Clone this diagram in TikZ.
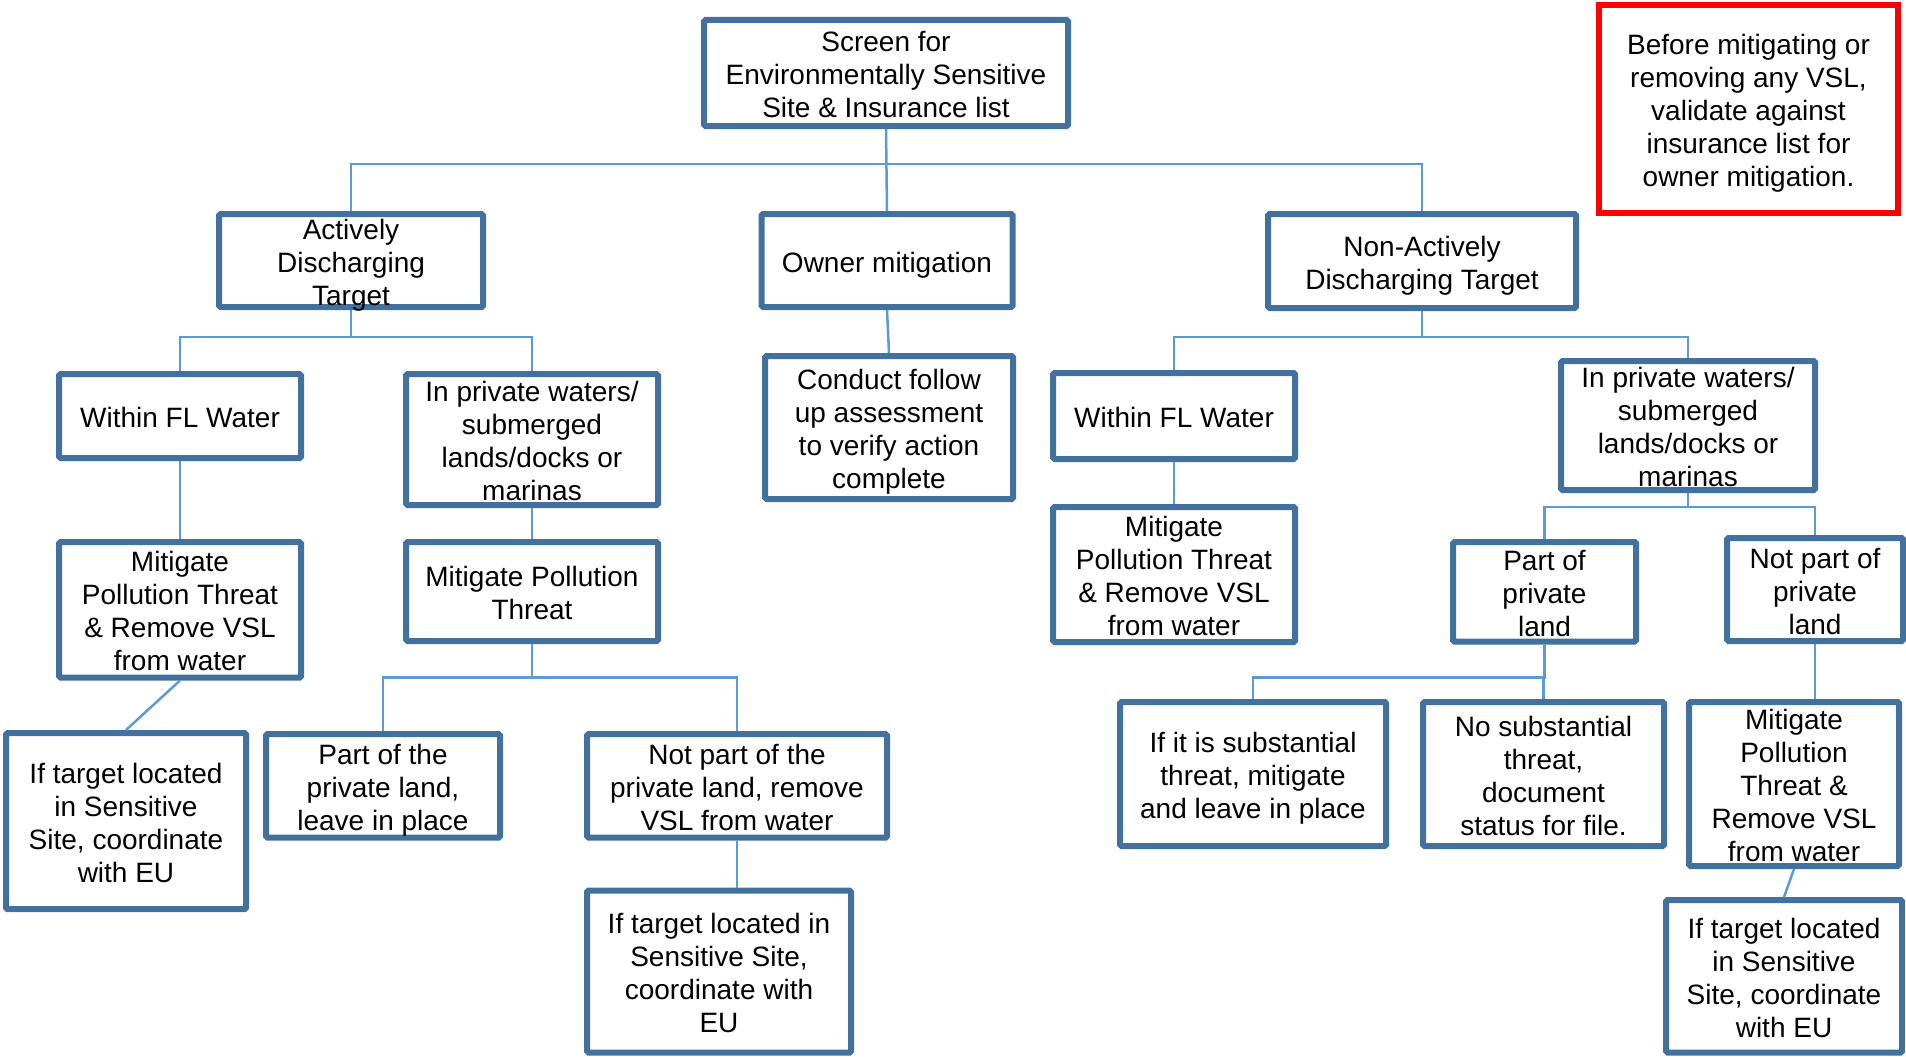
\documentclass[tikz,border=0pt]{standalone}
\usepackage{fontspec}
\setmainfont{Liberation Sans}
\definecolor{boxblue}{HTML}{41719C}
\definecolor{linkblue}{HTML}{5B9BD5}
\definecolor{notered}{HTML}{FF0000}
\newcommand\topstrut{\rule{0pt}{29pt}}
\newcommand\botstrut{\rule[-6pt]{0pt}{6pt}}
% \flowbox[style]{name}{x}{y}{width}{height}{text}
\newcommand\flowbox[7][box]{%
  \node[#1, minimum width=#5, minimum height=#6] (#2) at (#3,#4) {};
  \node[txt] (#2-t) at (#2.center) {\topstrut#7\botstrut};}
\begin{document}
\begin{tikzpicture}[x=1pt,y=-1pt,
  box/.style={draw=boxblue, line width=6pt, rounded corners=1.5pt, inner sep=0pt},
  note/.style={draw=notered, line width=6pt, inner sep=0pt},
  txt/.style={inner sep=0pt, align=center, font=\fontsize{28}{33}\selectfont},
  link/.style={draw=linkblue, line width=2.5pt}]
\useasboundingbox (0,0) rectangle (1906,1057);

\coordinate (b1) at (0,164);
\coordinate (b2) at (0,337);
\coordinate (b3) at (0,677.5);
\coordinate (b4) at (0,507);

% boxes
\flowbox{root}{886}{73}{364pt}{106pt}
  {Screen for\\Environmentally Sensitive\\Site \& Insurance list}
\flowbox[note]{note}{1748.5}{109}{299pt}{208pt}
  {Before mitigating or\\removing any VSL,\\validate against\\insurance list for\\owner mitigation.}

\flowbox{adt}{351}{260.5}{264pt}{93pt}{Actively\\Discharging\\Target}
\flowbox{owner}{887}{260.5}{251pt}{93pt}{Owner mitigation}
\flowbox{nadt}{1422}{261}{308pt}{94pt}{Non-Actively\\Discharging Target}

\flowbox{withinL}{180}{416}{242pt}{84pt}{Within FL Water}
\flowbox{privL}{532}{439.5}{252pt}{131pt}
  {In private waters/\\submerged\\lands/docks or\\marinas}
\flowbox{conduct}{889}{427.5}{248pt}{143pt}
  {Conduct follow\\up assessment\\to verify action\\complete}
\flowbox{withinR}{1174}{416}{242pt}{86pt}{Within FL Water}
\flowbox{privR}{1688}{425.5}{254pt}{129pt}
  {In private waters/\\submerged\\lands/docks or\\marinas}

\flowbox{mitL}{180}{609.75}{242pt}{135.5pt}
  {Mitigate\\Pollution Threat\\\& Remove VSL\\from water}
\flowbox{mitP}{532}{591.5}{252pt}{99pt}{Mitigate Pollution\\Threat}
\flowbox{mitR}{1174}{574.5}{242pt}{135pt}
  {Mitigate\\Pollution Threat\\\& Remove VSL\\from water}
\flowbox{partR}{1544.5}{591.8}{183pt}{99.6pt}{Part of\\private\\land}
\flowbox{notpartR}{1815}{589.5}{176pt}{103pt}{Not part of\\private\\land}

\flowbox{ifL}{126}{821}{240pt}{176pt}
  {If target located\\in Sensitive\\Site, coordinate\\with EU}
\flowbox{partL}{383}{785.75}{234pt}{103.5pt}
  {Part of the\\private land,\\leave in place}
\flowbox{notpartL}{737}{785.75}{300pt}{103.5pt}
  {Not part of the\\private land, remove\\VSL from water}
\flowbox{ifM}{719}{971.5}{264pt}{162pt}
  {If target located in\\Sensitive Site,\\coordinate with\\EU}

\flowbox{subst}{1253}{774}{266pt}{144pt}
  {If it is substantial\\threat, mitigate\\and leave in place}
\flowbox{nosubst}{1543.5}{774}{241pt}{144pt}
  {No substantial\\threat,\\document\\status for file.}
\flowbox{mitRR}{1794}{784}{210pt}{164pt}
  {Mitigate\\Pollution\\Threat \&\\Remove VSL\\from water}
\flowbox{ifR}{1784}{976.25}{236pt}{152.5pt}
  {If target located\\in Sensitive\\Site, coordinate\\with EU}

% connectors
\draw[link] (root.south) -- (owner.north);
\draw[link] (adt.north) -- (adt.north |- b1) -- (nadt.north |- b1) -- (nadt.north);

\draw[link] (withinL.north) -- (withinL.north |- b2) -- (privL.north |- b2) -- (privL.north);
\draw[link] (adt.south) -- (adt.south |- b2);
\draw[link] (withinL.south) -- (mitL.north);
\draw[link] (privL.south) -- (mitP.north);
\draw[link] (mitL.south) -- (ifL.north);
\draw[link] (partL.north) -- (partL.north |- b3) -- (notpartL.north |- b3) -- (notpartL.north);
\draw[link] (mitP.south) -- (mitP.south |- b3);
\draw[link] (notpartL.south) -- (notpartL.south |- ifM.north);

\draw[link] (owner.south) -- (conduct.north);

\draw[link] (withinR.north) -- (withinR.north |- b2) -- (privR.north |- b2) -- (privR.north);
\draw[link] (nadt.south) -- (nadt.south |- b2);
\draw[link] (withinR.south) -- (mitR.north);
\draw[link] (partR.north) -- (partR.north |- b4) -- (notpartR.north |- b4) -- (notpartR.north);
\draw[link] (privR.south) -- (privR.south |- b4);
\draw[link] (subst.north) -- (subst.north |- b3) -- (partR.south |- b3) -- (partR.south);
\draw[link] (nosubst.north) -- (nosubst.north |- b3);
\draw[link] (notpartR.south) -- (notpartR.south |- mitRR.north);
\draw[link] (mitRR.south) -- (ifR.north);
\end{tikzpicture}
\end{document}
